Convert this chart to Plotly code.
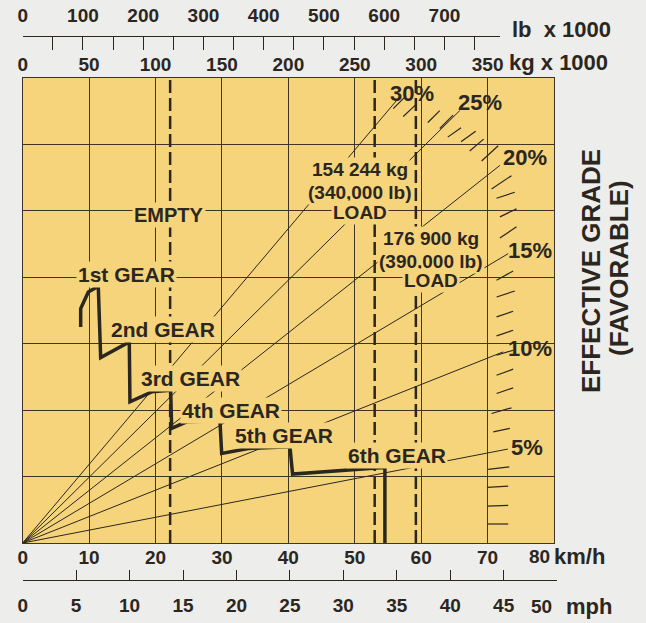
import plotly.graph_objects as go

W, H = 646, 623

# ---------------- data ----------------
kmh_ticks = [0, 10, 20, 30, 40, 50, 60, 70, 80]
kmh_text = ["0", "10", "20", "30", "40", "50", "60", "70", ""]
kg_ticks = [0, 50, 100, 150, 200, 250, 300, 350]
lb_ticks = [0, 100, 200, 300, 400, 500, 600, 700]
mph_ticks = [0, 5, 10, 15, 20, 25, 30, 35, 40, 45, 50]
mph_text = ["0", "5", "10", "15", "20", "25", "30", "35", "40", "45", ""]

grade_names = ["5%", "10%", "15%", "20%", "25%", "30%"]
ray_end_kmh = [73.05, 72.35, 73.1, 71.85, 65.83, 56.3]
ray_end_y = [1.414, 2.877, 4.356, 5.684, 6.511, 6.662]

gear_kmh = [8.73, 8.73, 9.88, 11.38, 11.74, 15.90, 16.05, 16.15, 19.42, 22.28, 22.43,
            24.69, 29.70, 29.96, 33.96, 40.24, 40.64, 54.28, 54.54, 54.54]
gear_y = [3.253, 3.529, 3.779, 3.865, 2.792, 3.027, 3.027, 2.125, 2.275, 2.301, 1.725,
          1.824, 1.839, 1.349, 1.424, 1.448, 1.038, 1.138, 1.128, 0.0]

weight_line_kmh = [22.2, 53.0, 59.2]

gear_names = ["1st GEAR", "2nd GEAR", "3rd GEAR", "4th GEAR", "5th GEAR", "6th GEAR"]
load_154 = ["154 244 kg", "(340,000 lb)", "LOAD"]
load_176 = ["176 900 kg", "(390,000 lb)", "LOAD"]

hatch_x0 = [55.8, 57.3, 61.0, 62.8, 64.0, 66.0, 67.3, 69.1,
            70.6, 71.35, 71.85, 71.85,
            71.35, 71.35, 71.35, 71.35, 71.35, 71.35, 71.35, 70.6, 70.85,
            70.09, 69.94, 69.94, 69.94]
hatch_y0 = [6.54, 6.42, 6.33, 6.24, 6.11, 6.04, 5.90, 5.75,
            5.33, 5.19, 4.91, 4.59,
            3.955, 3.704, 3.403, 3.117, 2.827, 2.526, 2.251, 1.950, 1.674,
            1.108, 0.838, 0.556, 0.286]
hatch_x1 = [57.6, 59.2, 62.8, 64.8, 66.0, 68.2, 69.4, 71.6,
            73.6, 74.1, 74.36, 74.36,
            73.85, 74.1, 73.85, 73.85, 73.85, 73.85, 73.85, 73.6, 73.35,
            73.25, 73.1, 73.1, 73.1]
hatch_y1 = [6.72, 6.60, 6.51, 6.44, 6.25, 6.20, 6.08, 5.98,
            5.53, 5.28, 5.03, 4.76,
            4.095, 3.794, 3.489, 3.203, 2.902, 2.617, 2.335, 2.035, 1.725,
            1.147, 0.857, 0.567, 0.286]

# ---------------- styling ----------------
YEL = "#F6D47C"
BG = "#EDEDEB"
INK = "#2B2720"
GRID = "#3E3526"
FONT = "Liberation Sans"

# layout geometry (pixels -> paper)
px0, px1 = 22.7, 554.0
py_top, py_bot = 78.0, 543.0
xd = [px0 / W, px1 / W]
yd = [1 - py_bot / H, 1 - py_top / H]
px_per_kmh = (px1 - px0) / 80.0
kg_per_kmh = 5.0
lb_per_kg = 2.20462
lb_end_px = 500.0
lb_range_end = (lb_end_px - px0) / px_per_kmh * kg_per_kmh * lb_per_kg
mph_end_px = px0 + 50 * 1.609344 * px_per_kmh

fig = go.Figure()

# grade rays
for xe, ye in zip(ray_end_kmh, ray_end_y):
    fig.add_trace(go.Scatter(x=[0, xe], y=[0, ye], mode="lines",
                             line=dict(color=INK, width=1), hoverinfo="skip",
                             showlegend=False))

# hatch marks
hx, hy = [], []
for a, b, c, d in zip(hatch_x0, hatch_y0, hatch_x1, hatch_y1):
    hx += [a, c, None]
    hy += [b, d, None]
fig.add_trace(go.Scatter(x=hx, y=hy, mode="lines", line=dict(color=INK, width=1.2),
                         hoverinfo="skip", showlegend=False))

# weight lines (dashed)
for xv in weight_line_kmh:
    fig.add_trace(go.Scatter(x=[xv, xv], y=[0, 7], mode="lines",
                             line=dict(color=INK, width=2.5, dash="13px,5px"),
                             hoverinfo="skip", showlegend=False))

# gear curve
fig.add_trace(go.Scatter(x=gear_kmh, y=gear_y, mode="lines",
                         line=dict(color=INK, width=3.5), hoverinfo="skip",
                         showlegend=False))

# dummy traces to activate the extra axes
fig.add_trace(go.Scatter(x=[0], y=[0], xaxis="x2", yaxis="y", mode="markers",
                         marker=dict(opacity=0), hoverinfo="skip", showlegend=False))
fig.add_trace(go.Scatter(x=[0], y=[0], xaxis="x3", yaxis="y2", mode="markers",
                         marker=dict(opacity=0), hoverinfo="skip", showlegend=False))
fig.add_trace(go.Scatter(x=[0], y=[0], xaxis="x4", yaxis="y2", mode="markers",
                         marker=dict(opacity=0), hoverinfo="skip", showlegend=False))

tickfont = dict(family=FONT, size=19, color=INK, weight="bold")

fig.update_layout(
    width=W, height=H,
    margin=dict(l=0, r=0, t=0, b=0, autoexpand=False),
    paper_bgcolor=BG, plot_bgcolor="rgba(0,0,0,0)",
    showlegend=False,
    xaxis=dict(domain=xd, range=[0, 80], tickvals=kmh_ticks, ticktext=kmh_text,
               ticks="", showgrid=True, gridcolor=GRID, gridwidth=1, zeroline=False,
               showline=True, linecolor=GRID, linewidth=1, mirror=True,
               tickfont=tickfont, ticklabelstandoff=-3, anchor="y", fixedrange=True),
    yaxis=dict(domain=yd, range=[0, 7], dtick=1, showticklabels=False, ticks="",
               showgrid=True, gridcolor=GRID, gridwidth=1, zeroline=False,
               showline=True, linecolor=GRID, linewidth=1, mirror=True,
               anchor="x", fixedrange=True),
    xaxis2=dict(overlaying="x", side="top", anchor="y",
                range=[0, 80 * kg_per_kmh], tickvals=kg_ticks, ticks="",
                showgrid=False, zeroline=False, showline=False,
                tickfont=tickfont, ticklabelstandoff=2, fixedrange=True),
    xaxis3=dict(anchor="free", position=1 - 36 / H, side="top",
                domain=[xd[0], lb_end_px / W], range=[0, lb_range_end],
                tickvals=lb_ticks, ticks="inside", ticklen=13, tickcolor=INK,
                tickwidth=1,
                minor=dict(dtick=50, tick0=0, ticks="inside", ticklen=13,
                           tickcolor=INK, tickwidth=1, showgrid=False),
                showgrid=False, zeroline=False, showline=True, linecolor=INK,
                linewidth=1.2, tickfont=tickfont, ticklabelstandoff=6,
                fixedrange=True),
    xaxis4=dict(anchor="free", position=1 - 580 / H, side="bottom",
                domain=[xd[0], mph_end_px / W], range=[0, 50],
                tickvals=mph_ticks, ticktext=mph_text, ticks="inside", ticklen=10,
                tickcolor=INK, tickwidth=1, showgrid=False, zeroline=False,
                showline=True, linecolor=INK, linewidth=1.2, tickfont=tickfont,
                ticklabelstandoff=8, fixedrange=True),
    yaxis2=dict(domain=[0.98, 1.0], visible=False, showgrid=False, range=[0, 1],
                fixedrange=True),
)

# yellow plot area
fig.add_shape(type="rect", xref="x domain", yref="y domain", x0=0, x1=1, y0=0, y1=1,
              fillcolor=YEL, line=dict(width=0), layer="below")


def ann(text, x, y, size=19, bg=YEL, xref="x", yref="y", xanchor="center", **kw):
    fig.add_annotation(text=str(text), x=x, y=y, xref=xref, yref=yref,
                       showarrow=False,
                       font=dict(family=FONT, size=size, color=INK, weight="bold"),
                       bgcolor=bg, borderpad=1, xanchor=xanchor, yanchor="middle",
                       **kw)


# gear labels
gear_pos = [(15.7, 4.04), (21.05, 3.21), (25.2, 2.47), (31.3, 1.99), (39.4, 1.62), (56.3, 1.32)]
for name, (gx, gy) in zip(gear_names, gear_pos):
    ann(name, gx, gy, size=21)

ann("EMPTY", 22.0, 4.94, size=20)
for t, yy in zip(load_154, [5.617, 5.278, 4.970]):
    ann(t, 50.8, yy, size=19)
for t, yy in zip(load_176, [4.579, 4.241, 3.955]):
    ann(t, 61.55, yy, size=19)

grade_pos = [(76.0, 1.436), (76.4, 2.925), (76.4, 4.406), (75.6, 5.797), (68.9, 6.624), (58.6, 6.774)]
for name, (gx, gy) in zip(grade_names, grade_pos):
    ann(name, gx, gy, size=22, bg="rgba(0,0,0,0)")

# unit labels
T = "rgba(0,0,0,0)"
ann("lb  x 1000", 510 / W, 1 - 30 / H, size=22, bg=T, xref="paper", yref="paper",
    xanchor="left")
ann("kg x 1000", 507 / W, 1 - 62 / H, size=22, bg=T, xref="paper", yref="paper",
    xanchor="left")
ann(kmh_ticks[-1], 539 / W, 1 - 556 / H, size=19, bg=T, xref="paper", yref="paper")
ann("km/h", 552 / W, 1 - 556 / H, size=22, bg=T, xref="paper", yref="paper",
    xanchor="left")
ann(mph_ticks[-1], 541 / W, 1 - 606 / H, size=19, bg=T, xref="paper", yref="paper")
ann("mph", 564 / W, 1 - 606 / H, size=22, bg=T, xref="paper", yref="paper",
    xanchor="left")

ann("EFFECTIVE GRADE", 591 / W, 1 - 271 / H, size=26, bg=T, xref="paper",
    yref="paper", textangle=-90)
ann("(FAVORABLE)", 619 / W, 1 - 268 / H, size=26, bg=T, xref="paper",
    yref="paper", textangle=-90)

fig.write_html(
    "out.html",
    config={"displayModeBar": False},
    post_script="document.body.style.margin='0';"
                "document.body.style.background='" + BG + "';"
                "document.documentElement.style.overflow='hidden';",
)
